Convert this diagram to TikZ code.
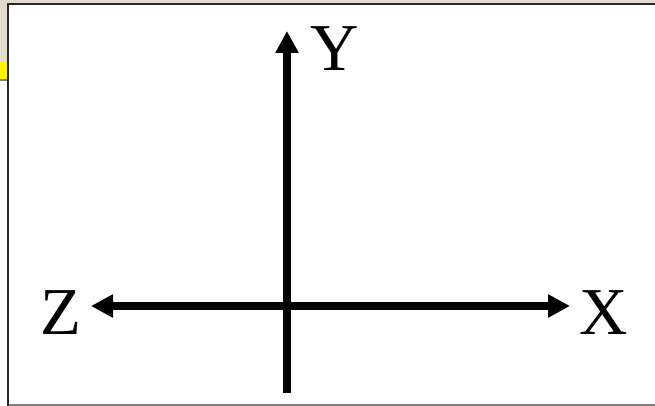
\documentclass[tikz,border=0pt]{standalone}
\usepackage{fontspec}
\setmainfont{Liberation Serif}
\usetikzlibrary{arrows.meta}
\definecolor{beige}{RGB}{226,218,205}
\definecolor{frameline}{RGB}{40,40,40}
\definecolor{bottomline}{RGB}{128,128,128}
\tikzset{
  axis/.style={line width=8pt, -{Triangle[length=22pt,width=22pt]}},
  lbl/.style={inner sep=0pt, anchor=base west, font=\fontsize{67}{67}\selectfont}
}
\begin{document}
\begin{tikzpicture}[x=1pt,y=-1pt]
\useasboundingbox (0,0) rectangle (655,406);
% background strips
\fill[beige] (0,0) rectangle (655,4);
\fill[beige] (0,0) rectangle (8,62);
\fill[yellow] (0,62) rectangle (8,79);
\fill[bottomline] (0,79) rectangle (8,81);
% frame
\fill[frameline] (7.3,3.5) rectangle (655,5.5);
\fill[frameline] (7.3,3.5) rectangle (9.3,406);
\fill[bottomline] (9.3,404) rectangle (655,406);
% axes
\coordinate (ob) at (287,393);
\coordinate (yt) at (287,31);
\coordinate (xl) at (91,306);
\coordinate (xr) at (570,306);
\coordinate (xm) at (330,306);
\draw[axis] (ob) -- (yt);
\draw[axis] (xm) -- (xr);
\draw[axis] (xm) -- (xl);
% labels
\node[lbl] (Y) at (310,71) {Y};
\node[lbl] (Z) at (40,334) {Z};
\node[lbl] (X) at (579,334) {X};
\end{tikzpicture}
\end{document}
